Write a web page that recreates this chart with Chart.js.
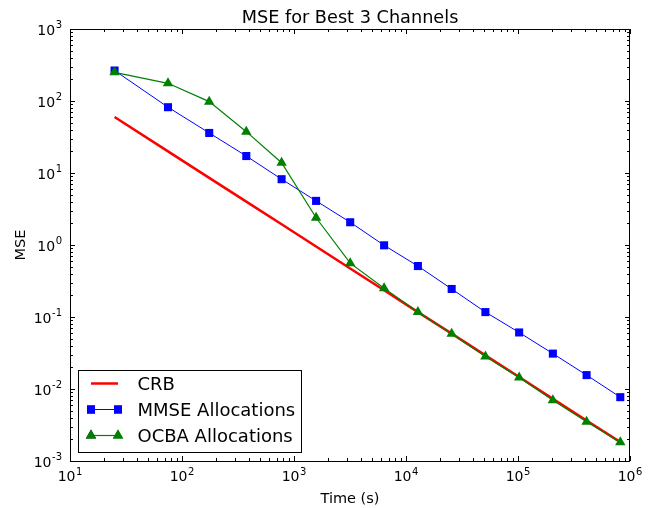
<!DOCTYPE html>
<html><head><meta charset="utf-8">
<script src="https://cdn.jsdelivr.net/npm/chart.js@4.4.0/dist/chart.umd.min.js"></script>
<style>html,body{margin:0;padding:0;background:#fff;} #wrap{width:652px;height:508px;}</style>
</head><body><div id="wrap"><canvas id="c" width="652" height="508"></canvas></div>
<script>
const times = [25, 75, 175, 375, 775, 1575, 3175, 6375, 12775, 25575, 51175, 102375, 204775, 409575, 819175];
const crb = [60, 20, 8.57, 4.0, 1.94, 0.952, 0.472, 0.235, 0.117, 0.0587, 0.0293, 0.01465, 0.00732, 0.00366, 0.00183];
const mmse = [265, 82, 36, 17.2, 8.2, 4.1, 2.07, 0.99, 0.51, 0.245, 0.117, 0.061, 0.031, 0.0156, 0.0077];
const ocba = [250, 176, 98, 37.5, 13.9, 2.39, 0.56, 0.25, 0.117, 0.0586, 0.0283, 0.0144, 0.0070, 0.00352, 0.00182];
const seriesNames = ['CRB', 'MMSE Allocations', 'OCBA Allocations'];
const xTickExponents = [1, 2, 3, 4, 5, 6];
const yTickExponents = [-3, -2, -1, 0, 1, 2, 3];
const titleText = 'MSE for Best 3 Channels';
const xLabel = 'Time (s)';
const yLabel = 'MSE';

const FONT = '"DejaVu Sans", sans-serif';
const COLORS = ['#ff0000', '#0000ff', '#008000'];

function pts(ys) { return times.map((t, i) => ({x: t, y: ys[i]})); }

function powWidth(ctx, exp) {
  ctx.font = '14px ' + FONT; const w1 = ctx.measureText('10').width;
  ctx.font = '10px ' + FONT; const w2 = ctx.measureText(String(exp)).width;
  return [w1, w2];
}
function drawPow(ctx, exp, xLeft, baseline) {
  const [w1] = powWidth(ctx, exp);
  ctx.textAlign = 'left'; ctx.textBaseline = 'alphabetic';
  ctx.font = '14px ' + FONT; ctx.fillText('10', xLeft, baseline);
  ctx.font = '10px ' + FONT; ctx.fillText(String(exp), xLeft + w1 + 0.5, baseline - 6.5);
}

const decor = {
  id: 'decor',
  afterDraw(chart) {
    const ctx = chart.ctx, a = chart.chartArea;
    const xs = chart.scales.x, ys = chart.scales.y;
    ctx.save();
    ctx.fillStyle = '#000'; ctx.strokeStyle = '#000'; ctx.lineWidth = 1;
    ctx.strokeRect(a.left + 0.5, a.top + 0.5, a.right - a.left - 1, a.bottom - a.top);
    const MAJ = 5, MIN = 3;
    ctx.beginPath();
    for (let e = xTickExponents[0]; e <= xTickExponents[xTickExponents.length - 1]; e++) {
      const p = Math.round(xs.getPixelForValue(Math.pow(10, e))) + 0.5;
      ctx.moveTo(p, a.bottom); ctx.lineTo(p, a.bottom - MAJ);
      ctx.moveTo(p, a.top); ctx.lineTo(p, a.top + MAJ);
      if (e < xTickExponents[xTickExponents.length - 1]) {
        for (let k = 2; k <= 9; k++) {
          const q = Math.round(xs.getPixelForValue(k * Math.pow(10, e))) + 0.5;
          ctx.moveTo(q, a.bottom); ctx.lineTo(q, a.bottom - MIN);
          ctx.moveTo(q, a.top); ctx.lineTo(q, a.top + MIN);
        }
      }
    }
    for (let e = yTickExponents[0]; e <= yTickExponents[yTickExponents.length - 1]; e++) {
      const p = Math.round(ys.getPixelForValue(Math.pow(10, e))) + 0.5;
      ctx.moveTo(a.left, p); ctx.lineTo(a.left + MAJ, p);
      ctx.moveTo(a.right, p); ctx.lineTo(a.right - MAJ, p);
      if (e < yTickExponents[yTickExponents.length - 1]) {
        for (let k = 2; k <= 9; k++) {
          const q = Math.round(ys.getPixelForValue(k * Math.pow(10, e))) + 0.5;
          ctx.moveTo(a.left, q); ctx.lineTo(a.left + MIN, q);
          ctx.moveTo(a.right, q); ctx.lineTo(a.right - MIN, q);
        }
      }
    }
    ctx.stroke();
    xTickExponents.forEach(e => {
      const p = xs.getPixelForValue(Math.pow(10, e));
      const [w1, w2] = powWidth(ctx, e);
      drawPow(ctx, e, p - (w1 + w2 + 0.5) / 2, a.bottom + 20);
    });
    yTickExponents.forEach(e => {
      const p = ys.getPixelForValue(Math.pow(10, e));
      const [w1, w2] = powWidth(ctx, e);
      drawPow(ctx, e, a.left - 8 - (w1 + w2 + 0.5), p + 5.5);
    });
    ctx.textAlign = 'center'; ctx.textBaseline = 'alphabetic';
    ctx.font = '17.7px ' + FONT;
    ctx.fillText(titleText, (a.left + a.right) / 2, 23);
    ctx.font = '14.5px ' + FONT;
    ctx.fillText(xLabel, (a.left + a.right) / 2, 503);
    ctx.save();
    ctx.translate(25, (a.top + a.bottom) / 2);
    ctx.rotate(-Math.PI / 2);
    ctx.fillText(yLabel, 0, 0);
    ctx.restore();
    const lx = 78.5, ly = 370.5, lw = 223, lh = 82;
    ctx.fillStyle = '#fff';
    ctx.fillRect(lx, ly, lw, lh);
    ctx.strokeStyle = '#000'; ctx.lineWidth = 1;
    ctx.strokeRect(lx, ly, lw, lh);
    const rowsY = [383.5, 409.5, 435.5];
    const x1 = 91, x2 = 118;
    seriesNames.forEach((name, i) => {
      const y = rowsY[i];
      const ds = chart.data.datasets.find(d => d.label === name);
      ctx.strokeStyle = ds.borderColor; ctx.lineWidth = ds.borderWidth;
      ctx.beginPath(); ctx.moveTo(x1, y); ctx.lineTo(x2, y); ctx.stroke();
      if (ds.pointRadius > 0) {
        [x1, x2].forEach(xx => {
          Chart.helpers.drawPoint(ctx, {pointStyle: ds.pointStyle, radius: ds.pointRadius, borderWidth: 0, rotation: 0}, xx, y);
          ctx.fillStyle = ds.backgroundColor; ctx.fill();
        });
      }
      ctx.fillStyle = '#000';
      ctx.font = '18px ' + FONT; ctx.textAlign = 'left'; ctx.textBaseline = 'alphabetic';
      ctx.fillText(name, 137.5, y + 6.5);
    });
    ctx.restore();
  }
};

new Chart(document.getElementById('c'), {
  type: 'line',
  data: {
    datasets: [
      {label: seriesNames[0], data: pts(crb), borderColor: COLORS[0], backgroundColor: COLORS[0], borderWidth: 2.5, pointRadius: 0, order: 3, pointStyle: 'circle'},
      {label: seriesNames[1], data: pts(mmse), borderColor: COLORS[1], backgroundColor: COLORS[1], borderWidth: 1, pointRadius: 5.7, pointBorderWidth: 0, pointStyle: 'rect', order: 2},
      {label: seriesNames[2], data: pts(ocba), borderColor: COLORS[2], backgroundColor: COLORS[2], borderWidth: 1.2, pointRadius: 6, pointBorderWidth: 0, pointStyle: 'triangle', order: 1}
    ]
  },
  options: {
    responsive: false,
    animation: false,
    devicePixelRatio: 1,
    layout: {padding: {left: 70, top: 29, right: 22, bottom: 47}},
    clip: false,
    plugins: {legend: {display: false}, title: {display: false}, tooltip: {enabled: false}},
    scales: {
      x: {type: 'logarithmic', min: 10, max: 1e6, display: false},
      y: {type: 'logarithmic', min: 1e-3, max: 1e3, display: false}
    },
    elements: {line: {tension: 0}}
  },
  plugins: [decor]
});
</script>
</body></html>
